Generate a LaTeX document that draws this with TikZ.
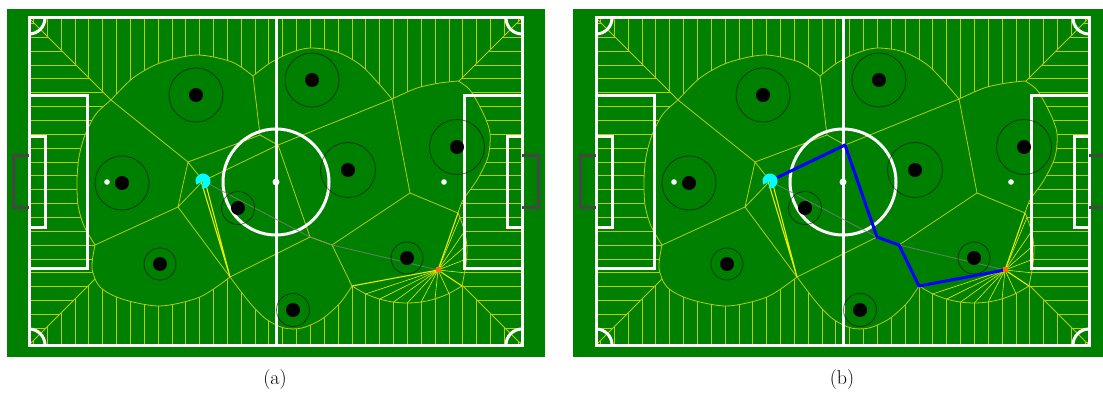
\documentclass[tikz,border=0pt]{standalone}
\usepackage{tikz}

\definecolor{pitchgreen}{RGB}{0,128,0}
\definecolor{zoneline}{RGB}{185,205,10}
\definecolor{rayline}{RGB}{235,235,0}
\definecolor{goalgrey}{RGB}{70,70,70}
\definecolor{carrierorange}{RGB}{255,110,0}
\definecolor{ballcyan}{RGB}{0,255,255}

\tikzset{
  pitchline/.style={draw=white, line width=3pt},
  goalline/.style={draw=goalgrey, line width=3pt},
  zone/.style={draw=zoneline, line width=0.8pt},
  ray/.style={draw=rayline, line width=0.6pt},
  mainray/.style={draw=rayline, line width=1.1pt},
  reach/.style={draw=black, draw opacity=0.55, line width=0.8pt},
  player/.style={circle, fill=black, inner sep=0pt, minimum size=14pt},
  carrierdot/.style={rectangle, fill=carrierorange, inner sep=0pt, minimum size=5pt},
  route/.style={draw=gray, draw opacity=0.8, line width=0.8pt},
  pass/.style={draw=blue, line width=3pt, line join=round},
}

\begin{document}
\begin{tikzpicture}[x=1pt, y=-1pt]
\useasboundingbox (0,0) rectangle (1103,395);
\fill[pitchgreen] (7,9) rectangle (545,357);
\fill[pitchgreen] (573,9) rectangle (1103,357);

\foreach \px/\pn in {0/a, 567/b} {
\begin{scope}[xshift=\px pt]
  % end zones: vertical hatching
  \begin{scope}
    \clip (29,18) -- (522,18) -- (358.5,181.5) -- (522,345) -- (29,345) -- (192.5,181.5) -- cycle;
    \foreach \k in {0,...,35}
      \draw[zone] ({33.4+13.85*\k},18) -- ++(0,327);
  \end{scope}
  % wings: horizontal hatching
  \begin{scope}
    \clip (29,18) -- (192.5,181.5) -- (29,345) -- cycle
          (522,18) -- (358.5,181.5) -- (522,345) -- cycle;
    \foreach \k in {0,...,23}
      \draw[zone] (29,{23.5+13.85*\k}) -- ++(493,0);
  \end{scope}
  \draw[zone] (29,18) -- (192.5,181.5) (522,18) -- (358.5,181.5)
              (29,345) -- (192.5,181.5) (522,345) -- (358.5,181.5);

  % dominated region
  \filldraw[zone, fill=pitchgreen]
    plot[smooth] coordinates {(111,100) (133,78) (160,63) (197,55) (232,62) (253,76)}
    -- plot[smooth] coordinates {(253,76) (270,63) (290,53) (310,48) (337,52) (363,67) (392,99)}
    -- plot[smooth] coordinates {(392,99) (417,88) (440,83) (458,81)}
    -- plot[smooth] coordinates {(458,81) (470,90) (483,113) (490,133) (488,157) (477,180) (463,200) (458,213)}
    -- plot[smooth] coordinates {(458,213) (460,217.4) (464.5,231.25) (466.8,245.1) (466.6,258.95) (464.5,272.8) (462,286)}
    -- plot[smooth] coordinates {(462,286) (448.9,293.5) (435.05,298.9) (421.2,302) (407.35,303) (393.5,302.1) (379.65,299.1) (365.8,293.9) (352,286)}
    -- plot[smooth] coordinates {(352,286) (340,303) (322,319) (302,328) (284,328) (266,319) (250,303) (230,277)}
    -- plot[smooth] coordinates {(230,277) (200,297) (160,306) (122,299) (100,287) (92,268) (95,245)}
    -- plot[smooth] coordinates {(95,245) (84,226) (78,205) (77,180) (79,157) (85,135) (96,114) (111,100)}
    -- cycle;

  % cell vertices
  \coordinate (k1-\pn) at (111,100);
  \coordinate (k2-\pn) at (253,76);
  \coordinate (k3-\pn) at (392,99);
  \coordinate (k5-\pn) at (458,213);
  \coordinate (k6-\pn) at (462,286);
  \coordinate (k7-\pn) at (352,286);
  \coordinate (k8-\pn) at (230,277);
  \coordinate (k9-\pn) at (95,245);
  \coordinate (vA-\pn) at (188,162);
  \coordinate (vB-\pn) at (260,135);
  \coordinate (vC-\pn) at (278,145);
  \coordinate (vD-\pn) at (178,207);
  \coordinate (vE-\pn) at (310,237);
  \coordinate (vF-\pn) at (332,245);
  \coordinate (vG-\pn) at (410,193);
  \coordinate (ball-\pn) at (203,181);
  \coordinate (carrier-\pn) at (438,270);

  \draw[zone] (k1-\pn) -- (vA-\pn) -- (vB-\pn) -- (k2-\pn)
              (vB-\pn) -- (vC-\pn) -- (k3-\pn) -- (vG-\pn) -- (k5-\pn)
              (vG-\pn) -- (vF-\pn) -- (k7-\pn)
              (vF-\pn) -- (vE-\pn) -- (vC-\pn)
              (vE-\pn) -- (k8-\pn) -- (vD-\pn) -- (vA-\pn)
              (vD-\pn) -- (k9-\pn)
              (vD-\pn) -- (ball-\pn) -- (vA-\pn)
              (ball-\pn) -- (vC-\pn);

  % reach fans
  \foreach \fx/\fy [count=\i] in {365.8/293.9, 379.65/299.1, 393.5/302.1, 407.35/303,
      421.2/302, 435.05/298.9, 448.9/293.5, 460/217.4, 464.5/231.25, 466.8/245.1,
      466.6/258.95, 464.5/272.8} {
    \coordinate (f\i-\pn) at (\fx,\fy);
    \draw[ray] (carrier-\pn) -- (f\i-\pn);
  }
  \draw[mainray] (carrier-\pn) -- (k7-\pn) (carrier-\pn) -- (k6-\pn)
                 (carrier-\pn) -- (k5-\pn);
  \draw[mainray] ([xshift=-2pt]ball-\pn) -- (k8-\pn) ([xshift=2pt]ball-\pn) -- (k8-\pn);

  % pitch markings
  \draw[pitchline] (29,18) rectangle (522,345);
  \draw[pitchline] (276,18) -- (276,345);
  \draw[pitchline] (276,182) circle (53);
  \draw[pitchline] (29,96) -| (87,269) -- (29,269);
  \draw[pitchline] (29,137) -| (45,228) -- (29,228);
  \draw[pitchline] (522,96) -| (464,269) -- (522,269);
  \draw[pitchline] (522,137) -| (507,228) -- (522,228);
  \draw[pitchline] (45,18) arc[start angle=0, end angle=90, radius=16];
  \draw[pitchline] (522,34) arc[start angle=90, end angle=180, radius=16];
  \draw[pitchline] (29,329) arc[start angle=270, end angle=360, radius=16];
  \draw[pitchline] (506,345) arc[start angle=180, end angle=270, radius=16];
  \fill[white] (107,182) circle (2.8) (444,182) circle (2.8) (276,182) circle (3.5);
  \draw[goalline] (29,156) -| (13,208) -- (29,208);
  \draw[goalline] (522,156) -| (538,208) -- (522,208);

  \draw[route] (ball-\pn) -- (vE-\pn) -- (vF-\pn) -- (carrier-\pn);

  % players
  \foreach \n/\cx/\cy/\r in {1/196/95/27, 2/312/80/27, 3/122/183/27, 4/348/170/27.5,
      5/457/147/27.5, 6/238/208/16.5, 7/160/264/16, 8/407/258/16, 9/293/310/16.5} {
    \node[player] (p\n-\pn) at (\cx,\cy) {};
    \draw[reach] (p\n-\pn) circle (\r);
  }
\end{scope}
}

\draw[pass] (ball-b) -- (vC-b) -- (vE-b) -- (vF-b) -- (k7-b) -- (carrier-b);

\foreach \pn in {a,b} {
  \fill[ballcyan] (ball-\pn) -- ++(150:7.5) arc[start angle=150, end angle=460, radius=7.5] -- cycle;
  \node[carrierdot] (mark-\pn) at (carrier-\pn) {};
}

\node[font=\fontsize{20}{24}\selectfont] (cap-a) at (275,380) {(a)};
\node[font=\fontsize{20}{24}\selectfont] (cap-b) at (842,380) {(b)};
\end{tikzpicture}
\end{document}
